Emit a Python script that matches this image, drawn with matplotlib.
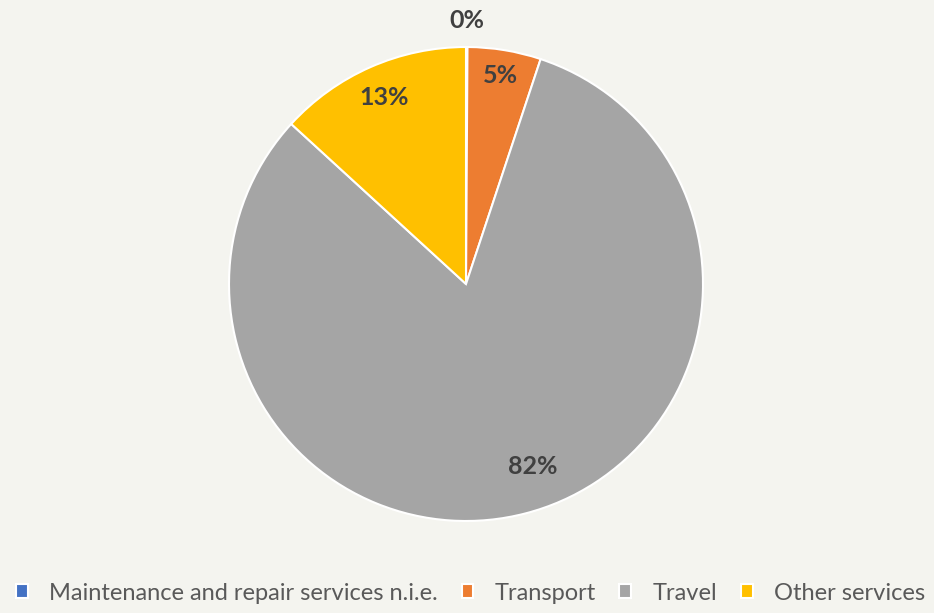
"""Services exports breakdown pie chart."""

import matplotlib.pyplot as plt
import numpy as np

categories = ["Maintenance and repair services n.i.e.", "Transport", "Travel", "Other services"]
shares = [0.1, 5.0, 81.7, 13.2]
colors = ["#4472C4", "#ED7D31", "#A5A5A5", "#FFC000"]
label_dist = [1.11, 0.89, 0.82, 0.86]
label_nudge = [0, 0, 5.4, 0]  # degrees

BG = "#F4F4EF"


def main():
    plt.rcParams["font.family"] = ["Lato", "DejaVu Sans"]

    fig = plt.figure(figsize=(9.34, 6.13), dpi=100, facecolor=BG)
    ax = fig.add_axes([229 / 934, 92 / 613, 474 / 934, 474 / 613])
    ax.set_facecolor(BG)

    wedges, _ = ax.pie(
        shares,
        colors=colors,
        startangle=90,
        counterclock=False,
        radius=1.0,
        wedgeprops=dict(edgecolor="white", linewidth=1.5),
    )

    # percentage labels placed along each wedge's mid angle
    total = sum(shares)
    for w, v, d, nd in zip(wedges, shares, label_dist, label_nudge):
        mid = np.deg2rad((w.theta1 + w.theta2) / 2 + nd)
        ax.text(d * np.cos(mid), d * np.sin(mid), f"{round(v / total * 100):.0f}%",
                ha="center", va="center", fontsize=18, fontweight="bold", color="#404040")

    ax.set_xlim(-1, 1)
    ax.set_ylim(-1, 1)
    ax.set_aspect("equal")

    fig.legend(
        wedges, categories,
        loc="center", bbox_to_anchor=(470.5 / 934, 1 - 593 / 613),
        ncol=4, frameon=False, fontsize=17, labelcolor="#595959",
        handlelength=0.5, handleheight=0.5, handletextpad=0.9, columnspacing=1.0,
        borderpad=0, borderaxespad=0,
    )

    fig.savefig("out.png", dpi=100, facecolor=BG)


if __name__ == "__main__":
    main()
